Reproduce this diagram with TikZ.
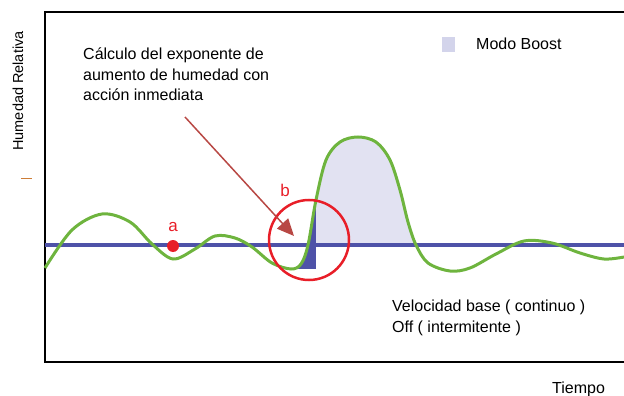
\documentclass[tikz,border=0pt]{standalone}
\usepackage{fontspec}
\setmainfont{Liberation Sans}
\usepackage{tikz}
\usetikzlibrary{arrows.meta}

\definecolor{curvegreen}{RGB}{110,180,62}
\definecolor{baseblue}{RGB}{78,82,168}
\definecolor{boostlav}{RGB}{226,226,242}
\definecolor{markred}{RGB}{232,30,40}
\definecolor{arrowred}{RGB}{184,72,68}
\definecolor{tickorange}{RGB}{205,125,55}

% humidity curve, image coordinates (y grows downwards)
\newcommand{\humcurve}{plot[smooth,tension=0.55] coordinates {(45,268) (72,230) (102,214) (130,222) (152,244) (173,259) (195,249) (215,236) (235,238) (252,247) (272,263) (291,269) (301,264) (308,245) (316,200) (326,160) (340,142) (358,137) (376,142) (390,160) (400,190) (408,222) (416,245) (428,263) (450,271) (470,268) (496,254) (524,241) (552,243) (580,253) (604,259) (624,257)}}

\begin{document}
\begin{tikzpicture}[x=1pt,y=-1pt,
    label_text/.style={inner sep=0pt,font=\fontsize{16}{20.5}\selectfont,align=left},
    red_text/.style={inner sep=0pt,text=markred,font=\fontsize{17}{20}\selectfont},
    green_curve/.style={draw=curvegreen,line width=3pt},
    base_line/.style={draw=baseblue,line width=3.5pt}]
    \useasboundingbox (0,0) rectangle (624,396);
    % boost area and exponent area under the curve
    \begin{scope}
        \clip \humcurve -- (624,400) -- (45,400) -- cycle;
        \fill[boostlav] (316,100) rectangle (420,245);
        \fill[baseblue] (288,150) rectangle (316,269);
    \end{scope}
    \draw[line width=1.5pt] (624,12) -- (45,12) -- (45,362) -- (624,362);
    \coordinate (base_l) at (45,245);
    \coordinate (base_r) at (624,245);
    \draw[base_line] (base_l) -- (base_r);
    \draw[green_curve] \humcurve;
    \node[circle,fill=markred,inner sep=0pt,minimum size=12pt] (dot_a) at (173,246) {};
    \node[red_text] (lbl_a) at (173,227) {a};
    \node[circle,draw=markred,line width=2.5pt,inner sep=0pt,minimum size=80pt] (zoom_b) at (309,240) {};
    \node[red_text] (lbl_b) at (285,190) {b};
    \node[label_text,anchor=north west] (calc) at (83,48) {C\'alculo del exponente de\\aumento de humedad con\\acci\'on inmediata};
    \coordinate (arrow_start) at (185,117);
    \coordinate (arrow_tip) at (294,236);
    \draw[arrowred,line width=1.5pt,-{Triangle[length=17pt,width=15pt]}] (arrow_start) -- (arrow_tip);
    \fill[boostlav!90!baseblue] (442,37) rectangle (455,52);
    \node[label_text,anchor=base west] (boost) at (476,50) {Modo Boost};
    \node[label_text,anchor=north west] (veloc) at (392,300) {Velocidad base ( continuo )\\Off ( intermitente )};
    \node[label_text,anchor=base west] (tiempo) at (552,393) {Tiempo};
    \node[label_text,rotate=90,font=\fontsize{14.5}{17}\selectfont] (humedad) at (18,91) {Humedad Relativa};
    \draw[tickorange,line width=1pt] (21,178) -- (32,178);
\end{tikzpicture}
\end{document}
